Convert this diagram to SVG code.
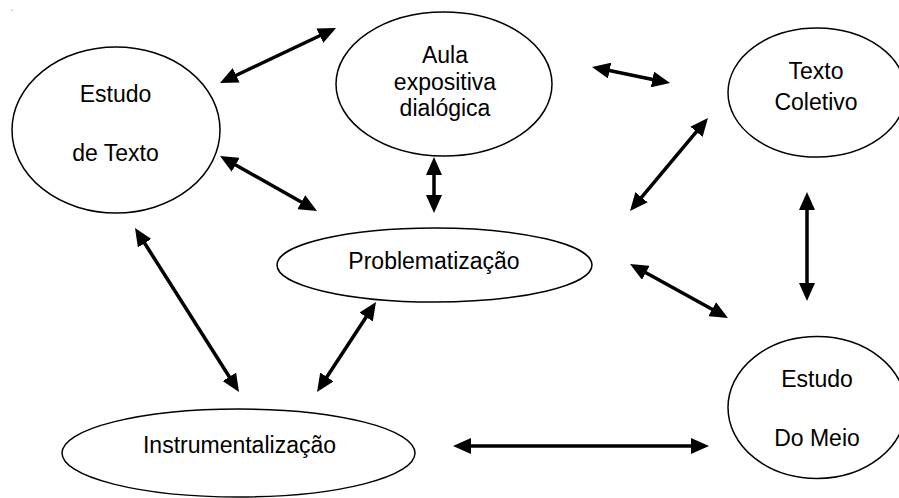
<svg xmlns="http://www.w3.org/2000/svg" width="899" height="498" viewBox="0 0 899 498">
  <style>
    .node ellipse { fill: #ffffff; stroke: #000000; stroke-width: 1.5; }
    .node text { font-family: "Liberation Sans", Arial, sans-serif; font-size: 23px; fill: #000000; text-anchor: middle; }
    .conn line { stroke: #000000; stroke-width: 3.5; marker-start: url(#ah); marker-end: url(#ah); }
  </style>
  <defs>
    <marker id="ah" viewBox="0 0 18 16" refX="4" refY="8" markerWidth="18" markerHeight="16" markerUnits="userSpaceOnUse" orient="auto-start-reverse">
      <path d="M0,0 L18,8 L0,16 z" fill="#000000"/>
    </marker>
  </defs>
  <rect width="899" height="498" fill="#ffffff"/>
  <rect x="11.5" y="9.5" width="1" height="1" fill="#666666"/>

  <g class="conn" id="connectors">
    <line x1="232.6" y1="77.0" x2="323.4" y2="34.0"/>
    <line x1="232.2" y1="162.9" x2="304.8" y2="204.1"/>
    <line x1="142.5" y1="239.8" x2="231.5" y2="380.2"/>
    <line x1="368.3" y1="313.7" x2="324.7" y2="380.3"/>
    <line x1="434" y1="171" x2="434" y2="199"/>
    <line x1="605.7" y1="69.8" x2="656.3" y2="80.2"/>
    <line x1="639" y1="200.3" x2="699" y2="128.7"/>
    <line x1="807" y1="206" x2="807" y2="287"/>
    <line x1="642.3" y1="270.8" x2="715.7" y2="311.2"/>
    <line x1="467" y1="446" x2="695" y2="446"/>
  </g>

  <g class="node" id="estudo-texto">
    <ellipse cx="116" cy="130" rx="104" ry="83"/>
    <text x="115.5" y="102">Estudo</text>
    <text x="115.5" y="161">de Texto</text>
  </g>

  <g class="node" id="aula">
    <ellipse cx="444" cy="84" rx="108" ry="72"/>
    <text x="445" y="63">Aula</text>
    <text x="445" y="90">expositiva</text>
    <text x="445" y="116">dialógica</text>
  </g>

  <g class="node" id="texto-coletivo">
    <ellipse cx="817" cy="92.5" rx="89" ry="64.5"/>
    <text x="816" y="79">Texto</text>
    <text x="816" y="110">Coletivo</text>
  </g>

  <g class="node" id="problematizacao">
    <ellipse cx="434.5" cy="265" rx="157.5" ry="37"/>
    <text x="434" y="269">Problematização</text>
  </g>

  <g class="node" id="instrumentalizacao">
    <ellipse cx="238.5" cy="453" rx="176.5" ry="44"/>
    <text x="239.5" y="453">Instrumentalização</text>
  </g>

  <g class="node" id="estudo-meio">
    <ellipse cx="817" cy="407.5" rx="89" ry="71"/>
    <text x="817" y="387">Estudo</text>
    <text x="817" y="446">Do Meio</text>
  </g>
</svg>
